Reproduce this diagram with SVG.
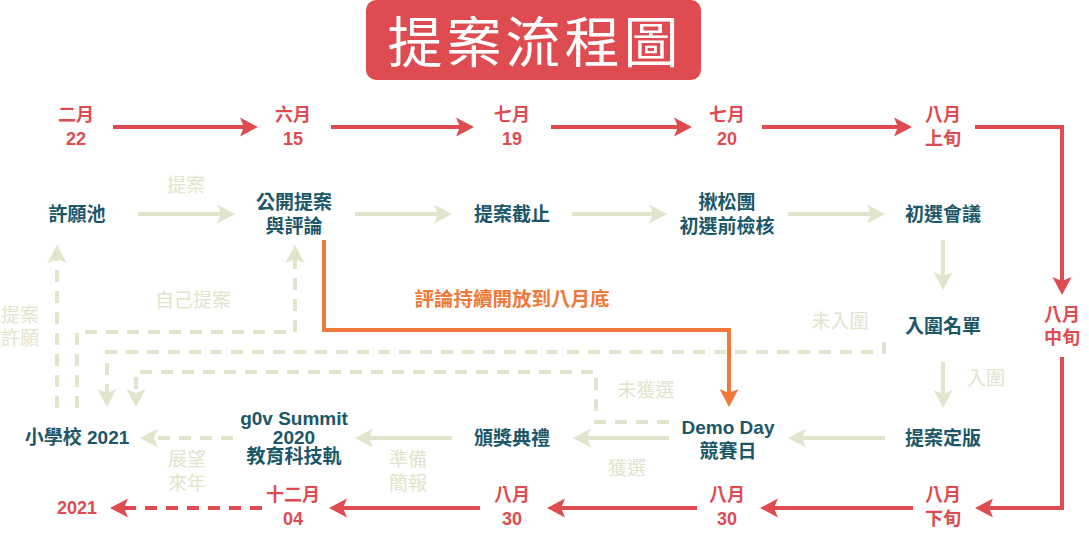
<svg xmlns="http://www.w3.org/2000/svg" width="1089" height="538" viewBox="0 0 1089 538">
<style>
text{font-family:"Liberation Sans","Noto Sans CJK TC",sans-serif;text-anchor:middle}
.n{font-size:19px;font-weight:bold;fill:#1b5768}
.d{font-size:18px;font-weight:bold;fill:#de4b50}
.l{font-size:19px;fill:#e2e4cc}
.o{font-size:19.5px;font-weight:bold;fill:#f07838}
.t{font-size:55px;fill:#ffffff;letter-spacing:4px;font-family:"Noto Sans CJK TC",sans-serif}
.r{fill:none;stroke:#de4b50;stroke-width:4}
.g{fill:none;stroke:#e2e4cc;stroke-width:4}
.og{fill:none;stroke:#f07838;stroke-width:4}
.ds{stroke-dasharray:12 9}
</style>
<defs>
<marker id="ar" markerUnits="userSpaceOnUse" markerWidth="20" markerHeight="20" viewBox="0 0 20 20" refX="8" refY="10" orient="auto"><path d="M0,0.5 L18,10 L0,19.5 L4,10 z" fill="#de4b50"/></marker>
<marker id="ag" markerUnits="userSpaceOnUse" markerWidth="20" markerHeight="20" viewBox="0 0 20 20" refX="8" refY="10" orient="auto"><path d="M0,0.5 L18,10 L0,19.5 L4,10 z" fill="#e2e4cc"/></marker>
<marker id="ao" markerUnits="userSpaceOnUse" markerWidth="20" markerHeight="20" viewBox="0 0 20 20" refX="8" refY="10" orient="auto"><path d="M0,0.5 L18,10 L0,19.5 L4,10 z" fill="#f07838"/></marker>
</defs>
<rect width="1089" height="538" fill="#ffffff"/>
<g id="title"><rect x="366" y="0" width="335" height="80" rx="10" fill="#de4b50"/><text class="t" x="535" y="62">提案流程圖</text></g>

<g id="connectors">
<path class="r" d="M113,127 H248" marker-end="url(#ar)"/>
<path class="r" d="M331,127 H464" marker-end="url(#ar)"/>
<path class="r" d="M551,127 H682" marker-end="url(#ar)"/>
<path class="r" d="M762,127 H902" marker-end="url(#ar)"/>
<path class="r" d="M975,127 H1062 V285" marker-end="url(#ar)"/>
<path class="r" d="M1062,357 V508 H985" marker-end="url(#ar)"/>
<path class="r" d="M913,508 H770" marker-end="url(#ar)"/>
<path class="r" d="M697,508 H557" marker-end="url(#ar)"/>
<path class="r" d="M480,508 H339" marker-end="url(#ar)"/>
<path class="r ds" d="M262,508 H120" marker-end="url(#ar)"/>

<path class="g" d="M138,214 H225" marker-end="url(#ag)"/>
<path class="g" d="M355,214 H442" marker-end="url(#ag)"/>
<path class="g" d="M572,214 H657" marker-end="url(#ag)"/>
<path class="g" d="M788,214 H875" marker-end="url(#ag)"/>
<path class="g" d="M943,240 V280" marker-end="url(#ag)"/>
<path class="g" d="M943,362 V398" marker-end="url(#ag)"/>
<path class="g" d="M885,438 H798" marker-end="url(#ag)"/>
<path class="g" d="M669,438 H583" marker-end="url(#ag)"/>
<path class="g" d="M452,438 H365" marker-end="url(#ag)"/>
<path class="g ds" d="M233,438 H150" marker-end="url(#ag)"/>

<path class="g ds" d="M57,408 V255" marker-end="url(#ag)"/>
<path class="g ds" d="M77,408 V332 H295 V255" marker-end="url(#ag)"/>
<path class="g ds" d="M884,342 V352 H107 V397" marker-end="url(#ag)"/>
<path class="g ds" d="M669,422 H596 V372 H136 V397" marker-end="url(#ag)"/>

<path class="og" d="M324,240 V330 H729 V397" marker-end="url(#ao)"/>
</g>

<g id="labels">
<text class="l" x="186" y="192">提案</text>
<text class="l" x="193" y="307">自己提案</text>
<text class="l" x="20" y="322">提案</text>
<text class="l" x="20" y="345">許願</text>
<text class="o" x="512" y="306">評論持續開放到八月底</text>
<text class="l" x="840" y="328">未入圍</text>
<text class="l" x="986" y="385">入圍</text>
<text class="l" x="646" y="397">未獲選</text>
<text class="l" x="627" y="475">獲選</text>
<text class="l" x="408" y="466">準備</text>
<text class="l" x="408" y="490">簡報</text>
<text class="l" x="187" y="466">展望</text>
<text class="l" x="187" y="490">來年</text>
</g>

<g id="date-0222"><text class="d" x="76" y="121">二月</text><text class="d" x="76" y="145">22</text></g>
<g id="date-0615"><text class="d" x="293" y="121">六月</text><text class="d" x="293" y="145">15</text></g>
<g id="date-0719"><text class="d" x="512" y="121">七月</text><text class="d" x="512" y="145">19</text></g>
<g id="date-0720"><text class="d" x="727" y="121">七月</text><text class="d" x="727" y="145">20</text></g>
<g id="date-08a"><text class="d" x="943" y="121">八月</text><text class="d" x="943" y="145">上旬</text></g>
<g id="date-08b"><text class="d" x="1062" y="321">八月</text><text class="d" x="1062" y="344">中旬</text></g>
<g id="date-08c"><text class="d" x="943" y="501">八月</text><text class="d" x="943" y="525">下旬</text></g>
<g id="date-0830a"><text class="d" x="727" y="501">八月</text><text class="d" x="727" y="525">30</text></g>
<g id="date-0830b"><text class="d" x="512" y="501">八月</text><text class="d" x="512" y="525">30</text></g>
<g id="date-1204"><text class="d" x="293" y="501">十二月</text><text class="d" x="293" y="525">04</text></g>
<g id="date-2021"><text class="d" x="77" y="514">2021</text></g>

<g id="node-wishpool"><text class="n" x="77" y="221">許願池</text></g>
<g id="node-public"><text class="n" x="294" y="209">公開提案</text><text class="n" x="294" y="233">與評論</text></g>
<g id="node-deadline"><text class="n" x="512" y="221">提案截止</text></g>
<g id="node-check"><text class="n" x="727" y="209">揪松團</text><text class="n" x="727" y="233">初選前檢核</text></g>
<g id="node-meeting"><text class="n" x="943" y="221">初選會議</text></g>
<g id="node-shortlist"><text class="n" x="943" y="333">入圍名單</text></g>
<g id="node-final"><text class="n" x="943" y="445">提案定版</text></g>
<g id="node-demoday"><text class="n" x="728" y="434">Demo Day</text><text class="n" x="728" y="458">競賽日</text></g>
<g id="node-award"><text class="n" x="512" y="445">頒獎典禮</text></g>
<g id="node-summit"><text class="n" x="294" y="425">g0v Summit</text><text class="n" x="294" y="444">2020</text><text class="n" x="294" y="463">教育科技軌</text></g>
<g id="node-school"><text class="n" x="77" y="444">小學校 2021</text></g>
</svg>
